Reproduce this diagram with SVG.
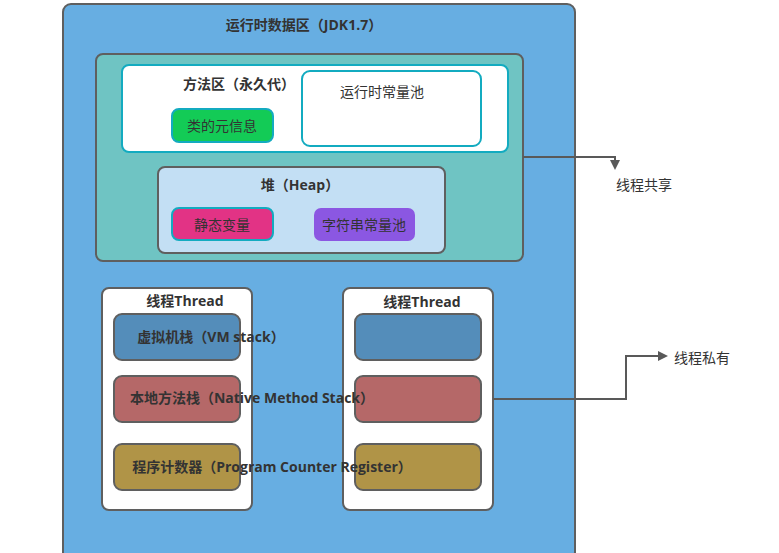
<svg xmlns="http://www.w3.org/2000/svg" width="779" height="553" viewBox="0 0 779 553">
<defs>
<style>
text{font-family:"Open Sans","Noto Sans CJK SC",sans-serif;font-size:14px;fill:#333;text-anchor:middle;dominant-baseline:central}
.b{font-weight:bold}
.box{stroke:#5f5f5f;stroke-width:2}
.cy{stroke:#13abc0;stroke-width:2}
.conn{fill:none;stroke:#595959;stroke-width:2}
</style>
<marker id="ah" markerWidth="10" markerHeight="10" refX="8" refY="5" orient="auto" markerUnits="userSpaceOnUse">
<path d="M0,0 L10,5 L0,10 Z" fill="#595959"/>
</marker>
</defs>
<g id="runtime-area">
<rect class="box" x="63" y="4" width="512" height="556" rx="8" fill="#67aee2"/>
<text class="b" x="304" y="24">运行时数据区（JDK1.7）</text>
</g>
<g id="shared">
<rect class="box" x="96" y="54" width="427" height="207" rx="7" fill="#6fc4c3"/>
</g>
<g id="method-area">
<rect class="cy" x="122" y="65" width="386" height="87" rx="7" fill="#fff"/>
<text class="b" x="239" y="83">方法区（永久代）</text>
</g>
<g id="class-meta">
<rect class="cy" x="172" y="109" width="101" height="33" rx="7" fill="#13cb56"/>
<text x="222" y="125">类的元信息</text>
</g>
<g id="runtime-pool">
<rect class="cy" x="302" y="71" width="179" height="75" rx="8" fill="#fff"/>
<text x="382" y="91">运行时常量池</text>
</g>
<g id="heap">
<rect class="box" x="158" y="167" width="287" height="86" rx="7" fill="#c3dff4"/>
<text class="b" x="300" y="184">堆（Heap）</text>
</g>
<g id="static-vars">
<rect class="cy" x="172" y="208" width="101" height="32" rx="7" fill="#e23385"/>
<text x="222" y="224">静态变量</text>
</g>
<g id="string-pool">
<rect x="314" y="208" width="101" height="33" rx="7" fill="#8b57e2"/>
<text x="364" y="224">字符串常量池</text>
</g>
<g id="thread1">
<rect class="box" x="102" y="288" width="150" height="222" rx="7" fill="#fff"/>
<text class="b" x="185" y="300">线程Thread</text>
<rect class="box" x="114" y="314" width="126" height="46" rx="8" fill="#548dba"/>
<rect class="box" x="114" y="376" width="126" height="46" rx="8" fill="#b56868"/>
<rect class="box" x="114" y="444" width="126" height="46" rx="8" fill="#b09447"/>
</g>
<g id="thread2">
<rect class="box" x="343" y="288" width="150" height="222" rx="7" fill="#fff"/>
<text class="b" x="422" y="301">线程Thread</text>
<rect class="box" x="355" y="314" width="126" height="46" rx="8" fill="#548dba"/>
<rect class="box" x="355" y="376" width="126" height="46" rx="8" fill="#b56868"/>
<rect class="box" x="355" y="444" width="126" height="46" rx="8" fill="#b09447"/>
</g>
<g id="labels">
<text class="b" x="211" y="336">虚拟机栈（VM stack）</text>
<text class="b" x="252" y="397">本地方法栈（Native Method Stack）</text>
<text class="b" x="272" y="466">程序计数器（Program Counter Register）</text>
</g>
<g id="connectors">
<path class="conn" d="M523,157 H615 V168" marker-end="url(#ah)"/>
<path class="conn" d="M493,399 H626 V356 H666" marker-end="url(#ah)"/>
</g>
<g id="shared-label"><text x="644" y="184">线程共享</text></g>
<g id="private-label"><text x="702" y="357">线程私有</text></g>
</svg>
